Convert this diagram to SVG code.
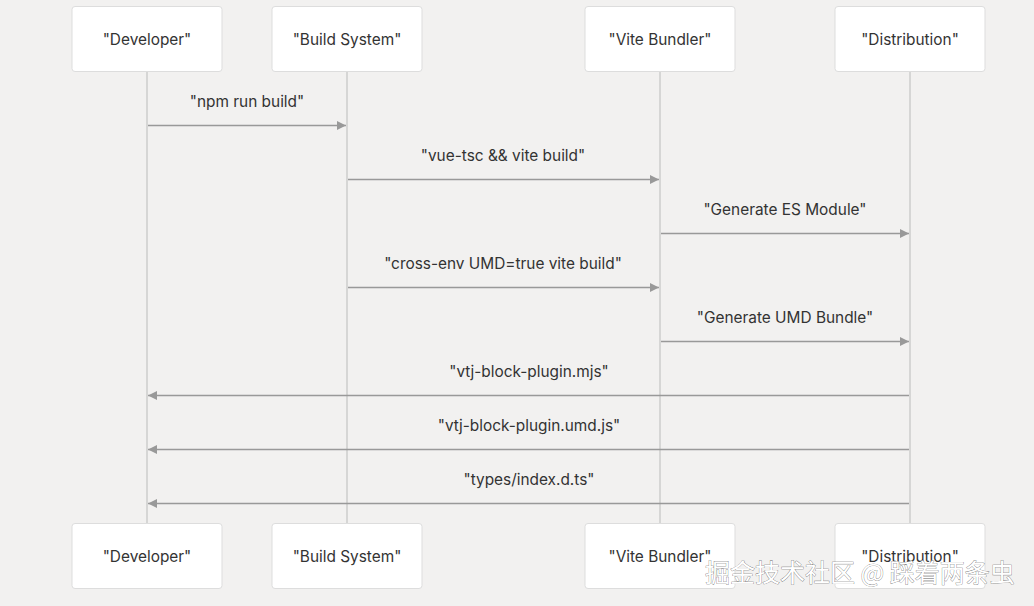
<svg xmlns="http://www.w3.org/2000/svg" width="1034" height="606" viewBox="0 0 1034 606">
<defs>
<style>
.bg{fill:#f2f1f0}
.box{fill:#ffffff;stroke:#dddddd;stroke-width:1}
.life{stroke:#cccccc;stroke-width:1.5;fill:none}
.msg{stroke:#999999;stroke-width:1.5;fill:none}
.lbl{font-family:Inter,"Noto Sans",sans-serif;font-size:15.4px;fill:#333333;text-anchor:middle;dominant-baseline:central}
.wm{font-family:"Noto Sans CJK SC","Noto Sans",sans-serif;font-size:25px;fill:#ffffff;stroke:#666666;stroke-width:0.6;paint-order:stroke}
</style>
<marker id="ah" viewBox="0 0 10 10" refX="10" refY="5" markerWidth="10" markerHeight="9" markerUnits="userSpaceOnUse" orient="auto">
<path d="M0,0 L10,5 L0,10 Z" fill="#999999"/>
</marker>
</defs>
<rect class="bg" x="0" y="0" width="1034" height="606"/>
<g id="lifelines">
<line class="life" x1="147" y1="71" x2="147" y2="523"/>
<line class="life" x1="347" y1="71" x2="347" y2="523"/>
<line class="life" x1="660" y1="71" x2="660" y2="523"/>
<line class="life" x1="910" y1="71" x2="910" y2="523"/>
</g>
<g id="developer">
<rect class="box" x="72" y="6.5" width="150" height="65" rx="3"/>
<text class="lbl" x="147" y="39">"Developer"</text>
<rect class="box" x="72" y="523.5" width="150" height="65" rx="3"/>
<text class="lbl" x="147" y="556">"Developer"</text>
</g>
<g id="build-system">
<rect class="box" x="272" y="6.5" width="150" height="65" rx="3"/>
<text class="lbl" x="347" y="39">"Build System"</text>
<rect class="box" x="272" y="523.5" width="150" height="65" rx="3"/>
<text class="lbl" x="347" y="556">"Build System"</text>
</g>
<g id="vite-bundler">
<rect class="box" x="585" y="6.5" width="150" height="65" rx="3"/>
<text class="lbl" x="660" y="39">"Vite Bundler"</text>
<rect class="box" x="585" y="523.5" width="150" height="65" rx="3"/>
<text class="lbl" x="660" y="556">"Vite Bundler"</text>
</g>
<g id="distribution">
<rect class="box" x="835" y="6.5" width="150" height="65" rx="3"/>
<text class="lbl" x="910" y="39">"Distribution"</text>
<rect class="box" x="835" y="523.5" width="150" height="65" rx="3"/>
<text class="lbl" x="910" y="556">"Distribution"</text>
</g>
<g id="connectors">
<line class="msg" x1="148" y1="125.5" x2="346" y2="125.5" marker-end="url(#ah)"/>
<text class="lbl" x="247" y="101">"npm run build"</text>
<line class="msg" x1="348" y1="179.5" x2="659" y2="179.5" marker-end="url(#ah)"/>
<text class="lbl" x="503" y="155">"vue-tsc &amp;&amp; vite build"</text>
<line class="msg" x1="661" y1="233.5" x2="909" y2="233.5" marker-end="url(#ah)"/>
<text class="lbl" x="785" y="209">"Generate ES Module"</text>
<line class="msg" x1="348" y1="287.5" x2="659" y2="287.5" marker-end="url(#ah)"/>
<text class="lbl" x="503" y="263">"cross-env UMD=true vite build"</text>
<line class="msg" x1="661" y1="341.5" x2="909" y2="341.5" marker-end="url(#ah)"/>
<text class="lbl" x="785" y="317">"Generate UMD Bundle"</text>
<line class="msg" x1="909" y1="395.5" x2="148" y2="395.5" marker-end="url(#ah)"/>
<text class="lbl" x="529" y="371">"vtj-block-plugin.mjs"</text>
<line class="msg" x1="909" y1="449.5" x2="148" y2="449.5" marker-end="url(#ah)"/>
<text class="lbl" x="529" y="425">"vtj-block-plugin.umd.js"</text>
<line class="msg" x1="909" y1="503.5" x2="148" y2="503.5" marker-end="url(#ah)"/>
<text class="lbl" x="529" y="479">"types/index.d.ts"</text>
</g>
<text class="wm" x="705" y="582">掘金技术社区 @ 踩着两条虫</text>
</svg>
